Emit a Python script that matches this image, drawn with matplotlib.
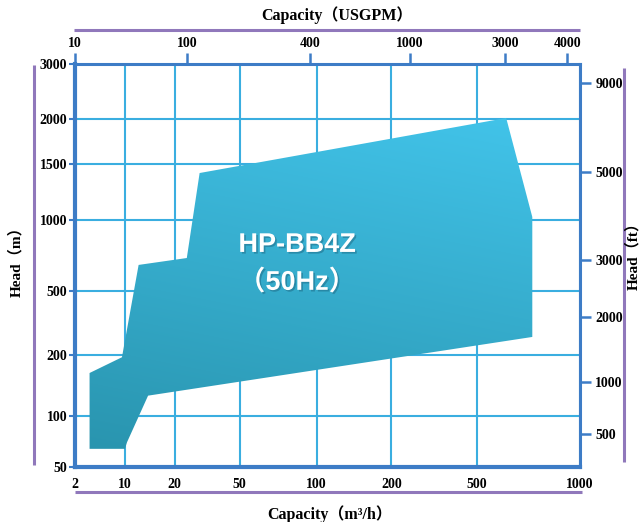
import numpy as np
import matplotlib
matplotlib.use("Agg")
import matplotlib.pyplot as plt
from matplotlib.patches import Polygon
from matplotlib.lines import Line2D
from matplotlib.ticker import NullLocator
import matplotlib.patheffects as pe

# ---------------- data ----------------
q_ticks = [2, 10, 20, 50, 100, 200, 500, 1000]          # Capacity m3/h (bottom)
h_ticks = [50, 100, 200, 500, 1000, 1500, 2000, 3000]   # Head m (left)
gpm_ticks = [10, 100, 400, 1000, 3000, 4000]            # Capacity USGPM (top)
ft_ticks = [500, 1000, 2000, 3000, 5000, 9000]          # Head ft (right)

# operating-range envelope (Q in m3/h, H in m)
env_q = [3.2, 3.2, 9.1, 12.1, 23.7, 28.4, 608, 725, 725, 13.8, 10.3, 10.0]
env_h = [64, 163, 195, 645, 690, 1405, 2015, 1022, 259, 126, 70, 64]

# ---------------- layout of the chart's non-uniform graduations ----------------
q_pos = [0, 0.0988, 0.1976, 0.3261, 0.4783, 0.6265, 0.7964, 1.0]
h_pos = [0, 0.1266, 0.2779, 0.4367, 0.6129, 0.7519, 0.8635, 1.0]
gpm_pos = [-0.004, 0.2194, 0.4625, 0.6621, 0.8518, 0.9743]
ft_pos = [0.0819, 0.2109, 0.3722, 0.5136, 0.7320, 0.9529]


def interp_ext(x, xp, fp):
    x = np.asarray(x, float)
    xp = np.asarray(xp, float)
    fp = np.asarray(fp, float)
    y = np.interp(x, xp, fp)
    lo_s = (fp[1] - fp[0]) / (xp[1] - xp[0])
    hi_s = (fp[-1] - fp[-2]) / (xp[-1] - xp[-2])
    y = np.where(x < xp[0], fp[0] + (x - xp[0]) * lo_s, y)
    y = np.where(x > xp[-1], fp[-1] + (x - xp[-1]) * hi_s, y)
    return y


def make_funcs(vals, pos):
    lv = np.log10(np.asarray(vals, float))
    p = np.asarray(pos, float)

    def fwd(x):
        x = np.asarray(x, float)
        with np.errstate(all="ignore"):
            l = np.log10(np.where(x > 0, x, np.nan))
        return interp_ext(l, lv, p)

    def inv(y):
        return 10 ** interp_ext(np.asarray(y, float), p, lv)

    return fwd, inv


BLUE = "#3d7cc6"
GRID = "#3aaee0"
PURPLE = "#9078bb"
TICK_FS = 10

plt.rcParams["font.family"] = ["Liberation Serif", "Noto Sans CJK SC"]
plt.rcParams["font.weight"] = "bold"

W, H = 641, 522
fig = plt.figure(figsize=(W / 100, H / 100), dpi=100)
L, R, T, B = 75, 580, 64, 467
ax = fig.add_axes([L / W, 1 - B / H, (R - L) / W, (B - T) / H])

qf = make_funcs(q_ticks, q_pos)
hf = make_funcs(h_ticks, h_pos)
ax.set_xscale("function", functions=qf)
ax.set_yscale("function", functions=hf)

# gradient-filled envelope
poly = Polygon(np.column_stack([env_q, env_h]), closed=True,
               facecolor="none", edgecolor="none", zorder=3)
ax.add_patch(poly)
n = 300
u, v = np.meshgrid(np.linspace(0, 1, n), np.linspace(0, 1, n))
t = np.clip((0.8 * v + 0.2 * u - 0.03) / 0.85, 0, 1)
c0 = np.array([0x29, 0x94, 0xae]) / 255
c1 = np.array([0x42, 0xc4, 0xea]) / 255
img = c0[None, None, :] * (1 - t[..., None]) + c1[None, None, :] * t[..., None]
with np.errstate(all="ignore"):
    im = ax.imshow(img, origin="lower", extent=(0, 1, 0, 1),
                   transform=ax.transAxes, aspect="auto", zorder=3,
                   interpolation="bilinear")
im.set_clip_path(poly)

ax.set_xlim(q_ticks[0], q_ticks[-1])
ax.set_ylim(h_ticks[0], h_ticks[-1])

ax.set_xticks(q_ticks, labels=[str(v) for v in q_ticks])
ax.set_yticks(h_ticks, labels=[str(v) for v in h_ticks])
ax.xaxis.set_minor_locator(NullLocator())
ax.yaxis.set_minor_locator(NullLocator())
ax.grid(True, color=GRID, lw=1.5, zorder=1)

for s in ["left", "bottom"]:
    ax.spines[s].set_linewidth(3.0)
    ax.spines[s].set_color(BLUE)
for s in ["top", "right"]:
    ax.spines[s].set_linewidth(2.2)
    ax.spines[s].set_color(BLUE)
ax.spines["left"].set_zorder(5)
ax.spines["bottom"].set_zorder(5)

ax.tick_params(axis="y", direction="out", length=4, width=1.5, color=BLUE,
               pad=1.5, labelsize=TICK_FS)
ax.tick_params(axis="x", length=0, pad=8, labelsize=TICK_FS)

# text inside envelope
txt_fx = [pe.withSimplePatchShadow(offset=(1.2, -1.2), shadow_rgbFace="#1a5f7a", alpha=0.45)]
for yy, s in [(0.551, "HP-BB4Z"), (0.457, "（50Hz）")]:
    ax.text(0.44, yy, s, transform=ax.transAxes, ha="center", va="center",
            color="white", fontsize=19.5, fontweight="bold",
            family=["Liberation Sans", "Noto Sans CJK SC"], zorder=6,
            path_effects=txt_fx)

# top axis: USGPM
gf = make_funcs(gpm_ticks, gpm_pos)
axt = ax.twiny()
axt.set_xscale("function", functions=gf)
axt.set_xlim(gf[1](0.0), gf[1](1.0))
axt.set_xticks(gpm_ticks, labels=[str(v) for v in gpm_ticks])
axt.xaxis.set_minor_locator(NullLocator())
axt.tick_params(axis="x", direction="out", length=8, width=1.8, color=BLUE,
                pad=2, labelsize=TICK_FS)
for s in axt.spines.values():
    s.set_visible(False)

# right axis: ft
ff = make_funcs(ft_ticks, ft_pos)
axr = ax.twinx()
axr.set_yscale("function", functions=ff)
axr.set_ylim(ff[1](0.0), ff[1](1.0))
axr.set_yticks(ft_ticks, labels=[str(v) for v in ft_ticks])
axr.yaxis.set_minor_locator(NullLocator())
axr.tick_params(axis="y", direction="out", length=8, width=1.8, color=BLUE,
                pad=3, labelsize=TICK_FS)
for s in axr.spines.values():
    s.set_visible(False)

# purple frame lines
def px_line(x0, y0, x1, y1):
    fig.add_artist(Line2D([x0 / W, x1 / W], [1 - y0 / H, 1 - y1 / H],
                          transform=fig.transFigure, color=PURPLE, lw=2.2,
                          solid_capstyle="butt"))

px_line(74, 30, 580, 30)
px_line(75, 492, 582, 492)
px_line(34, 65, 34, 465)
px_line(624, 68, 624, 462)

fig.text(337 / W, 1 - 15 / H, "Capacity（USGPM）", ha="center", va="center", fontsize=11.5)
fig.text(330 / W, 1 - 514 / H, "Capacity（m³/h）", ha="center", va="center", fontsize=11.5)
fig.text(16 / W, 1 - 258 / H, "Head（m）", ha="center", va="center", fontsize=11, rotation=90)
fig.text(633 / W, 1 - 252 / H, "Head（ft）", ha="center", va="center", fontsize=11, rotation=90)

fig.savefig("out.png", dpi=100)
